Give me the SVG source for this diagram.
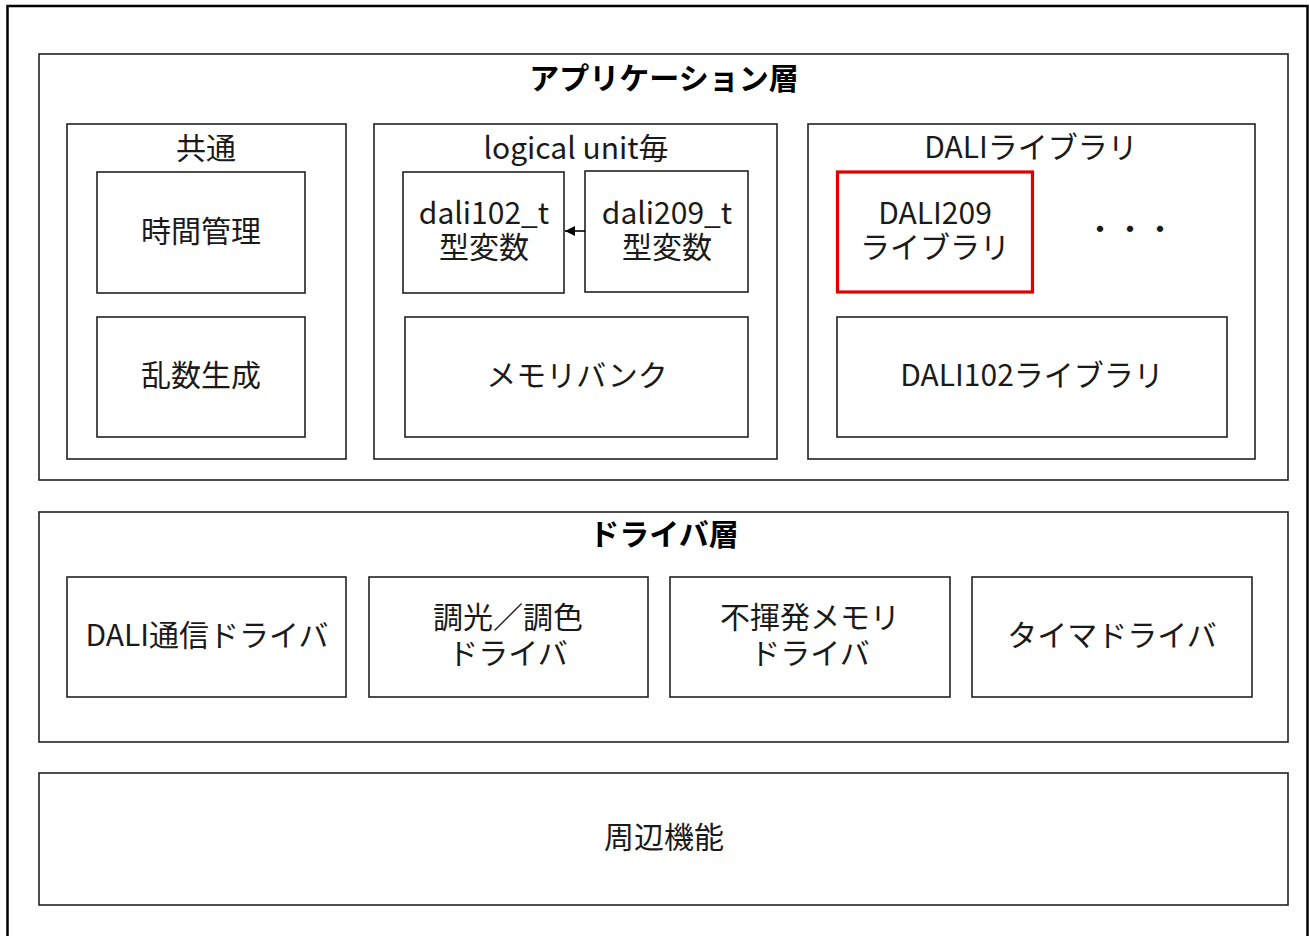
<svg xmlns="http://www.w3.org/2000/svg" width="1309" height="936" viewBox="0 0 1309 936">
<style>
.frame{fill:none;stroke:#000;stroke-width:2.5}
.box{fill:#fff;stroke:#222;stroke-width:1.6}
.red{fill:#fff;stroke:#e00000;stroke-width:3.2}
.t{font-family:"Noto Sans CJK JP","Noto Sans",sans-serif;font-size:30px;fill:#1a1a1a;text-anchor:middle;dominant-baseline:central}
.h{font-family:"Noto Sans CJK JP","Noto Sans",sans-serif;font-size:30px;font-weight:bold;fill:#000;text-anchor:middle;dominant-baseline:central}
.conn{stroke:#000;stroke-width:1.6;fill:none}
</style>
<defs>
<marker id="ah" viewBox="0 0 10 10" refX="10" refY="5" markerWidth="10" markerHeight="10" markerUnits="userSpaceOnUse" orient="auto">
<path d="M0,0 L10,5 L0,10 z" fill="#000"/>
</marker>
</defs>
<rect x="0" y="0" width="1309" height="936" fill="#fff"/>
<rect class="frame" x="7.5" y="6" width="1300" height="940"/>

<g id="app-layer">
<rect class="box" x="39" y="54" width="1249" height="426"/>
<text class="h" x="664" y="76">アプリケーション層</text>
</g>
<g id="common">
<rect class="box" x="67" y="124" width="279" height="335"/>
<text class="t" x="206" y="146">共通</text>
</g>
<g id="time-mgmt">
<rect class="box" x="97" y="172" width="208" height="121"/>
<text class="t" x="201" y="229">時間管理</text>
</g>
<g id="random">
<rect class="box" x="97" y="317" width="208" height="120"/>
<text class="t" x="201" y="373">乱数生成</text>
</g>
<g id="logical-unit">
<rect class="box" x="374" y="124" width="403" height="335"/>
<text class="t" x="576" y="146">logical unit毎</text>
</g>
<g id="dali102-t">
<rect class="box" x="403" y="172" width="161" height="121"/>
<text class="t"><tspan x="484" y="211">dali102_t</tspan><tspan x="484" y="245">型変数</tspan></text>
</g>
<g id="dali209-t">
<rect class="box" x="585" y="171" width="163" height="121"/>
<text class="t"><tspan x="667" y="211">dali209_t</tspan><tspan x="667" y="245">型変数</tspan></text>
</g>
<g id="memory-bank">
<rect class="box" x="405" y="317" width="343" height="120"/>
<text class="t" x="577" y="373">メモリバンク</text>
</g>
<g id="dali-lib">
<rect class="box" x="808" y="124" width="447" height="335"/>
<text class="t" x="1031" y="145">DALIライブラリ</text>
</g>
<g id="dali209-lib">
<rect class="red" x="837.5" y="172" width="195" height="120"/>
<text class="t"><tspan x="935" y="211">DALI209</tspan><tspan x="935" y="245">ライブラリ</tspan></text>
</g>
<g id="ellipsis">
<text class="t" x="1130" y="227">・・・</text>
</g>
<g id="dali102-lib">
<rect class="box" x="837" y="317" width="390" height="120"/>
<text class="t" x="1032" y="373">DALI102ライブラリ</text>
</g>

<g id="driver-layer">
<rect class="box" x="39" y="512" width="1249" height="230"/>
<text class="h" x="664" y="532">ドライバ層</text>
</g>
<g id="dali-comm">
<rect class="box" x="67" y="577" width="279" height="120"/>
<text class="t" x="207" y="633">DALI通信ドライバ</text>
</g>
<g id="dimming">
<rect class="box" x="369" y="577" width="279" height="120"/>
<text class="t"><tspan x="508" y="615">調光／調色</tspan><tspan x="508" y="651">ドライバ</tspan></text>
</g>
<g id="nvm">
<rect class="box" x="670" y="577" width="280" height="120"/>
<text class="t"><tspan x="810" y="615">不揮発メモリ</tspan><tspan x="810" y="651">ドライバ</tspan></text>
</g>
<g id="timer">
<rect class="box" x="972" y="577" width="280" height="120"/>
<text class="t" x="1112" y="633">タイマドライバ</text>
</g>

<g id="peripheral">
<rect class="box" x="39" y="773" width="1249" height="132"/>
<text class="t" x="664" y="835">周辺機能</text>
</g>

<g id="connectors">
<line class="conn" x1="585" y1="231" x2="565" y2="231" marker-end="url(#ah)"/>
</g>
</svg>
